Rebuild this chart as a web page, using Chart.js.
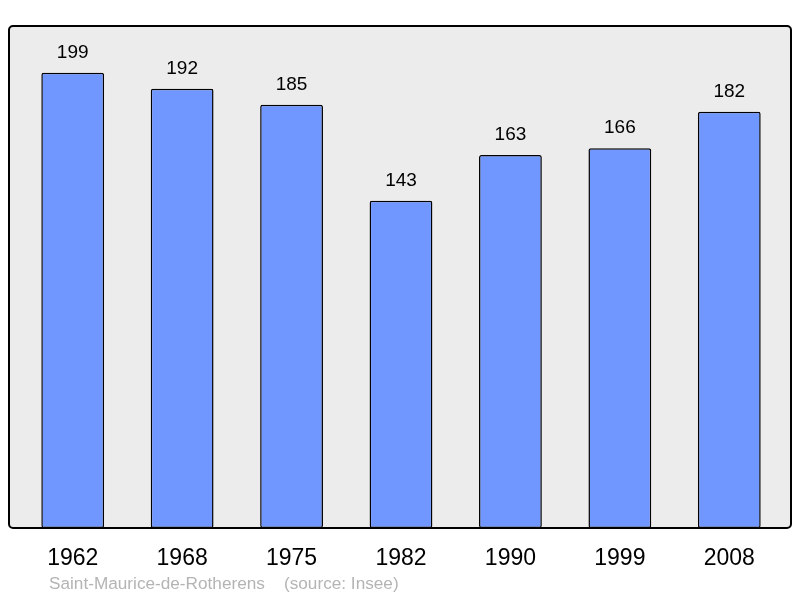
<!DOCTYPE html>
<html lang="fr">
<head>
  <meta charset="UTF-8">
  <title>Population - Saint-Maurice-de-Rotherens</title>
  <style>
    html, body { margin: 0; padding: 0; background: #ffffff; }
    #wrap { width: 800px; height: 598px; }
  </style>
</head>
<body>
  <div id="wrap">
    <canvas id="graphique" width="800" height="598"></canvas>
  </div>

  <script src="https://cdn.jsdelivr.net/npm/chart.js"></script>
  <script>
    const annees = ['1962', '1968', '1975', '1982', '1990', '1999', '2008'];
    const population = [199, 192, 185, 143, 163, 166, 182];
    const piedDePage = 'Saint-Maurice-de-Rotherens    (source: Insee)';

    // fond gris + cadre arrondi autour de la zone du graphique
    const cadre = {
      id: 'cadre',
      beforeDatasetsDraw(chart) {
        const { ctx, chartArea: a } = chart;
        ctx.save();
        ctx.beginPath();
        ctx.roundRect(a.left - 9, a.top - 1, a.right - a.left + 16, a.bottom - a.top + 1, 4);
        ctx.fillStyle = '#ececec';
        ctx.fill();
        ctx.restore();
      },
      afterDatasetsDraw(chart) {
        const { ctx, chartArea: a } = chart;
        ctx.save();
        ctx.beginPath();
        ctx.roundRect(a.left - 9, a.top - 1, a.right - a.left + 16, a.bottom - a.top + 1, 4);
        ctx.lineWidth = 2;
        ctx.strokeStyle = '#000000';
        ctx.stroke();
        ctx.restore();
      }
    };

    // valeurs au-dessus des barres + source en bas
    const etiquettes = {
      id: 'etiquettes',
      afterDraw(chart) {
        const { ctx } = chart;
        const meta = chart.getDatasetMeta(0);
        ctx.save();
        ctx.font = '19px "Liberation Sans", Arial, sans-serif';
        ctx.fillStyle = '#000000';
        ctx.textAlign = 'center';
        ctx.textBaseline = 'middle';
        meta.data.forEach((barre, i) => {
          ctx.fillText(String(population[i]), barre.x, barre.y - 20);
        });
        ctx.font = '17.2px "Liberation Sans", Arial, sans-serif';
        ctx.fillStyle = '#b4b4b4';
        ctx.textAlign = 'left';
        ctx.fillText(piedDePage, 49, 584);
        ctx.restore();
      }
    };

    new Chart(document.getElementById('graphique'), {
      type: 'bar',
      data: {
        labels: annees,
        datasets: [{
          data: population,
          backgroundColor: '#7096ff',
          borderColor: '#000000',
          borderWidth: 1.5,
          borderRadius: 2,
          borderSkipped: false,
          barPercentage: 0.574,
          categoryPercentage: 1
        }]
      },
      options: {
        responsive: false,
        animation: false,
        layout: { padding: { top: 27, left: 18, right: 16, bottom: 9.4 } },
        plugins: {
          legend: { display: false },
          tooltip: { enabled: false }
        },
        scales: {
          x: {
            grid: { display: false, drawTicks: false },
            border: { display: false },
            ticks: {
              color: '#000000',
              padding: 16.5,
              font: { family: '"Liberation Sans", Arial, sans-serif', size: 23 }
            }
          },
          y: {
            display: false,
            min: 0,
            max: 219
          }
        }
      },
      plugins: [cadre, etiquettes]
    });
  </script>
</body>
</html>
